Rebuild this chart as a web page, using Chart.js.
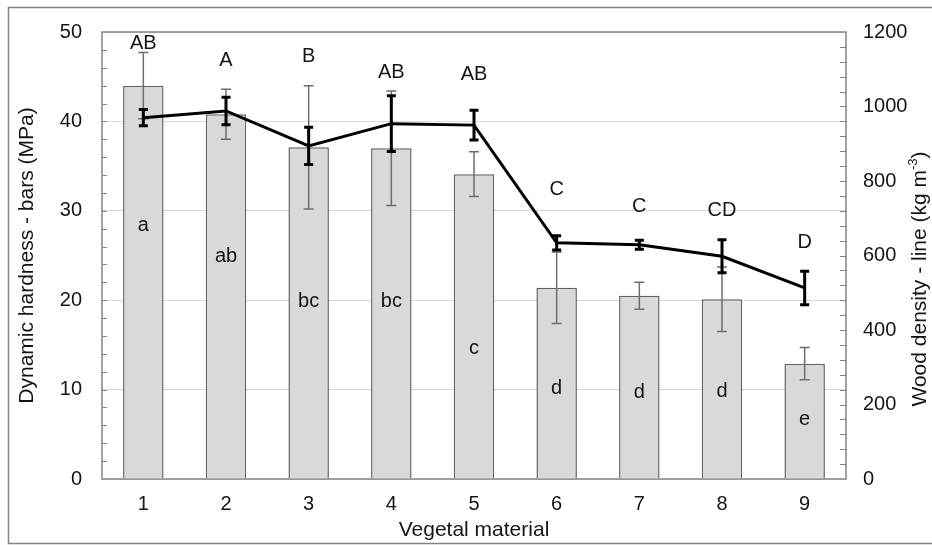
<!DOCTYPE html>
<html>
<head>
<meta charset="utf-8">
<title>Dynamic hardness and wood density</title>
<script src="https://cdn.jsdelivr.net/npm/chart.js@4.4.0/dist/chart.umd.min.js"></script>
<style>
  html, body { margin: 0; padding: 0; background: #fff; }
  #wrap { width: 932px; height: 545px; position: relative; }
</style>
</head>
<body>
<div id="wrap"><canvas id="hardnessChart"></canvas></div>
<script>
// vegetal material groups
const materials = ['1', '2', '3', '4', '5', '6', '7', '8', '9'];

// dynamic hardness (MPa) - bars
const hardness = [44.0, 40.8, 37.1, 37.0, 34.1, 21.4, 20.5, 20.1, 12.9];
const hardnessErr = [3.7, 2.8, 6.9, 6.4, 2.5, 4.0, 1.5, 3.6, 1.8];

// wood density (kg m-3) - line
const density = [970, 988, 894, 954, 950, 634, 629, 598, 513];
const densityErr = [22, 37, 50, 75, 40, 19, 12, 44, 45];

// significance letters
const densityGroups = ['AB', 'A', 'B', 'AB', 'AB', 'C', 'C', 'CD', 'D'];
const hardnessGroups = ['a', 'ab', 'bc', 'bc', 'c', 'd', 'd', 'd', 'e'];

// where the letters sit, in MPa on the left axis
const densityGroupsAt = [48.7, 46.8, 47.3, 45.5, 45.3, 32.4, 30.5, 30.0, 26.5];
const hardnessGroupsAt = [28.4, 24.9, 19.9, 19.9, 14.6, 10.1, 9.7, 9.8, 6.7];

const FONT = "'Liberation Sans', Arial, sans-serif";
const AXIS_GREY = '#858585';
const TEXT = '#151515';

Chart.defaults.font.family = FONT;
Chart.defaults.color = TEXT;

function drawErrors(chart, values, errors, axisId, color, width, cap) {
  const ctx = chart.ctx;
  const x = chart.scales.x;
  const y = chart.scales[axisId];
  ctx.save();
  ctx.strokeStyle = color;
  ctx.lineWidth = width;
  for (let i = 0; i < values.length; i++) {
    const px = x.getPixelForValue(i);
    const top = y.getPixelForValue(values[i] + errors[i]);
    const bottom = y.getPixelForValue(values[i] - errors[i]);
    ctx.beginPath();
    ctx.moveTo(px, top);
    ctx.lineTo(px, bottom);
    ctx.moveTo(px - cap / 2, top);
    ctx.lineTo(px + cap / 2, top);
    ctx.moveTo(px - cap / 2, bottom);
    ctx.lineTo(px + cap / 2, bottom);
    ctx.stroke();
  }
  ctx.restore();
}

const extras = {
  id: 'extras',
  beforeDraw(chart) {
    const ctx = chart.ctx;
    // outer frame (right side runs off the canvas)
    ctx.save();
    ctx.strokeStyle = AXIS_GREY;
    ctx.lineWidth = 1.5;
    ctx.strokeRect(8.5, 7.5, chart.width + 10, 536);
    ctx.restore();
  },
  beforeDatasetsDraw(chart) {
    const ctx = chart.ctx;
    const a = chart.chartArea;
    const yl = chart.scales.y;
    const yr = chart.scales.y1;
    ctx.save();
    ctx.strokeStyle = AXIS_GREY;
    ctx.lineWidth = 1;
    ctx.beginPath();
    // minor ticks, pointing into the plot
    for (let v = 2; v < 50; v += 2) {
      const py = Math.round(yl.getPixelForValue(v)) + 0.5;
      ctx.moveTo(a.left, py);
      ctx.lineTo(a.left + 5, py);
    }
    for (let v = 40; v < 1200; v += 40) {
      const py = Math.round(yr.getPixelForValue(v)) + 0.5;
      ctx.moveTo(a.right, py);
      ctx.lineTo(a.right - 6, py);
    }
    ctx.stroke();
    ctx.lineWidth = 1.5;
    ctx.strokeRect(a.left, a.top, a.right - a.left, a.bottom - a.top);
    ctx.restore();
  },
  afterDatasetDraw(chart, args) {
    // bar error bars go under the density line
    if (args.index === 1) {
      drawErrors(chart, hardness, hardnessErr, 'y', '#6e6e6e', 1.5, 10);
    }
  },
  afterDatasetsDraw(chart) {
    drawErrors(chart, density, densityErr, 'y1', '#000', 3, 9);

    const ctx = chart.ctx;
    const x = chart.scales.x;
    const y = chart.scales.y;
    ctx.save();
    ctx.fillStyle = TEXT;
    ctx.font = '20px ' + FONT;
    ctx.textAlign = 'center';
    ctx.textBaseline = 'middle';
    for (let i = 0; i < materials.length; i++) {
      const px = x.getPixelForValue(i);
      ctx.fillText(densityGroups[i], px, y.getPixelForValue(densityGroupsAt[i]));
      ctx.fillText(hardnessGroups[i], px, y.getPixelForValue(hardnessGroupsAt[i]));
    }
    ctx.restore();

    // right axis title, reading upwards, with the superscript
    const main = 'Wood density - line (kg m';
    const sup = '-3';
    const close = ')';
    ctx.save();
    ctx.translate(920, 279);
    ctx.rotate(-Math.PI / 2);
    ctx.fillStyle = TEXT;
    ctx.textBaseline = 'middle';
    ctx.textAlign = 'left';
    ctx.font = '21px ' + FONT;
    const wMain = ctx.measureText(main).width;
    const wClose = ctx.measureText(close).width;
    ctx.font = '13px ' + FONT;
    const wSup = ctx.measureText(sup).width;
    let sx = -(wMain + wSup + wClose) / 2;
    ctx.font = '21px ' + FONT;
    ctx.fillText(main, sx, 0);
    sx += wMain;
    ctx.font = '13px ' + FONT;
    ctx.fillText(sup, sx, -7);
    sx += wSup;
    ctx.font = '21px ' + FONT;
    ctx.fillText(close, sx, 0);
    ctx.restore();
  }
};

const ctx = document.getElementById('hardnessChart').getContext('2d');
new Chart(ctx, {
  type: 'bar',
  data: {
    labels: materials,
    datasets: [{
      type: 'line',
      label: 'Wood density',
      data: density,
      yAxisID: 'y1',
      borderColor: '#000',
      borderWidth: 3,
      pointRadius: 0,
      tension: 0,
      order: 0
    }, {
      label: 'Dynamic hardness',
      data: hardness,
      yAxisID: 'y',
      backgroundColor: '#d9d9d9',
      borderColor: '#656565',
      borderWidth: 1.5,
      barPercentage: 0.49,
      categoryPercentage: 1,
      order: 1
    }]
  },
  options: {
    responsive: true,
    maintainAspectRatio: false,
    animation: false,
    layout: { padding: { top: 30, left: 0, right: 0, bottom: 0 } },
    plugins: {
      legend: { display: false },
      tooltip: { enabled: false }
    },
    scales: {
      x: {
        grid: { display: false, drawTicks: false },
        border: { display: false },
        ticks: { padding: 13, font: { size: 20 } },
        title: {
          display: true,
          text: 'Vegetal material',
          font: { size: 21 },
          padding: { top: 0, bottom: 2 }
        },
        afterFit(scale) { scale.height = 66; }
      },
      y: {
        position: 'left',
        min: 0,
        max: 50,
        ticks: { stepSize: 10, padding: 20, font: { size: 20 } },
        grid: { color: '#d9d9d9', lineWidth: 1, drawTicks: false },
        border: { display: false },
        title: {
          display: true,
          text: 'Dynamic hardness - bars (MPa)',
          font: { size: 21 },
          padding: { top: 15, bottom: 0 }
        },
        afterFit(scale) { scale.width = 102; }
      },
      y1: {
        position: 'right',
        min: 0,
        max: 1200,
        ticks: {
          stepSize: 200,
          padding: 17,
          font: { size: 20 },
          callback: (value) => String(value)
        },
        grid: { display: false, drawTicks: false },
        border: { display: false },
        afterFit(scale) { scale.width = 86; }
      }
    }
  },
  plugins: [extras]
});
</script>
</body>
</html>
